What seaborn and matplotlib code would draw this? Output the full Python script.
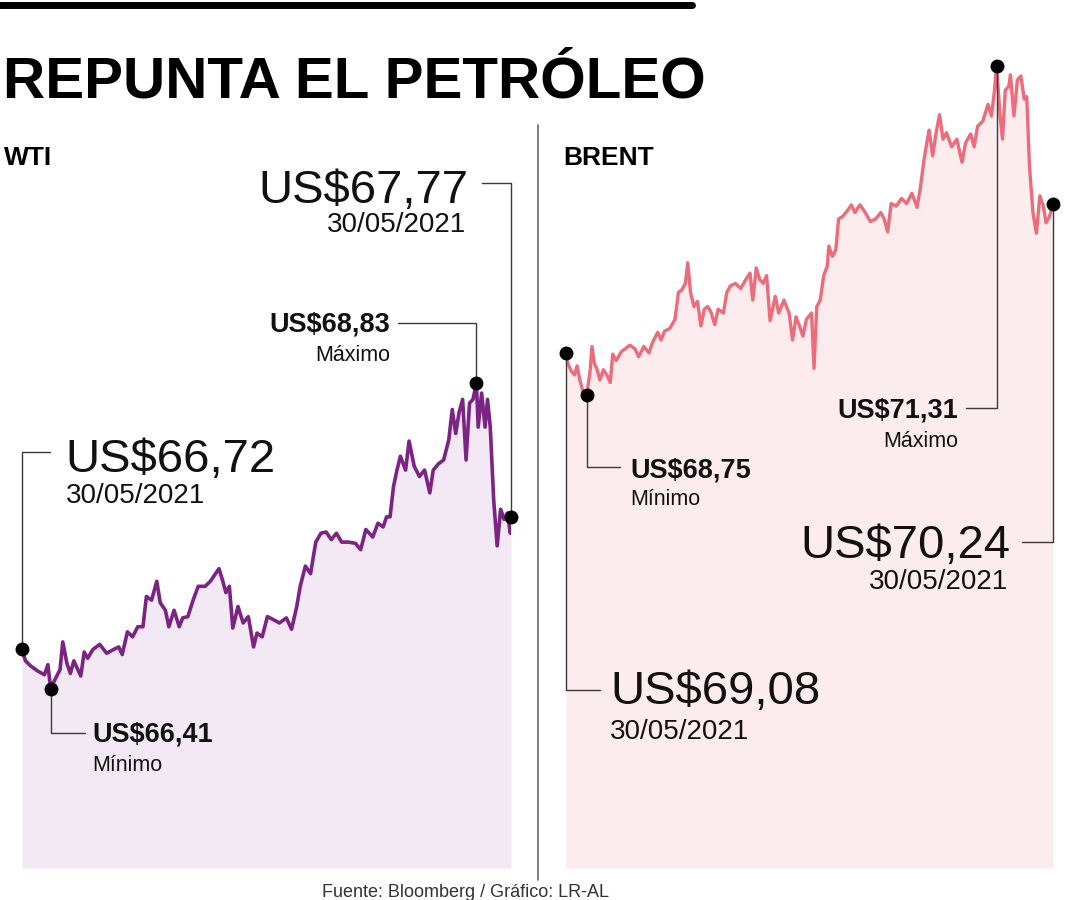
import matplotlib
matplotlib.use('Agg')

import numpy as np
import pandas as pd
import matplotlib.pyplot as plt
import seaborn as sns

# --- datos (posicion temporal relativa y precio en US$) ---
wti_tiempo = [65, 75, 90, 110, 130, 140, 148, 160, 175, 183, 195, 205, 215, 225, 235, 245,
              255, 270, 290, 310, 330, 345, 355, 370, 385, 400, 415, 425, 440, 455, 465, 480,
              490, 505, 520, 530, 545, 560, 575, 595, 610, 625, 635, 645, 655, 665, 675, 690,
              705, 720, 735, 745, 760, 775, 790, 810, 830, 845, 860, 870, 885, 900, 915, 930,
              945, 960, 975, 990, 1010, 1030, 1045, 1060, 1080, 1095, 1110, 1120, 1130, 1140,
              1150, 1160, 1175, 1185, 1200, 1215, 1230, 1245, 1255, 1270, 1285, 1300, 1310,
              1320, 1330, 1340, 1350, 1360, 1370, 1380, 1385, 1395, 1405, 1412, 1420, 1430,
              1440, 1450, 1460, 1470, 1478, 1480]
wti_precio = [66.72, 66.63, 66.59, 66.55, 66.52, 66.60, 66.41, 66.48, 66.56, 66.78, 66.61, 66.53,
              66.63, 66.57, 66.51, 66.70, 66.65, 66.72, 66.76, 66.69, 66.72, 66.74, 66.68, 66.86,
              66.82, 66.90, 66.90, 67.14, 67.11, 67.26, 67.09, 67.03, 66.90, 67.03, 66.90, 66.97,
              66.98, 67.11, 67.22, 67.22, 67.26, 67.32, 67.36, 67.27, 67.17, 67.22, 66.89, 67.06,
              66.93, 66.98, 66.74, 66.85, 66.82, 66.98, 66.96, 66.93, 66.97, 66.88, 67.06, 67.22,
              67.38, 67.32, 67.57, 67.64, 67.65, 67.59, 67.64, 67.57, 67.57, 67.56, 67.51, 67.67,
              67.61, 67.72, 67.69, 67.77, 67.77, 68.01, 68.14, 68.25, 68.14, 68.37, 68.17, 68.09,
              68.14, 67.96, 68.14, 68.19, 68.22, 68.38, 68.62, 68.43, 68.60, 68.70, 68.22, 68.67,
              68.70, 68.83, 68.48, 68.75, 68.48, 68.70, 68.48, 67.90, 67.54, 67.83, 67.75, 67.80,
              67.64, 67.77]

brent_tiempo = [80, 85, 95, 105, 112, 120, 130, 140, 150, 155, 162, 170, 178, 188, 198, 208,
                215, 225, 240, 255, 265, 280, 290, 305, 320, 330, 345, 355, 365, 380, 395, 405,
                415, 425, 432, 440, 450, 460, 470, 480, 490, 500, 510, 520, 535, 545, 555, 570,
                585, 600, 612, 620, 630, 640, 650, 660, 670, 685, 695, 710, 725, 735, 745, 755,
                765, 775, 790, 797, 805, 815, 825, 835, 840, 850, 860, 868, 880, 895, 905, 915,
                930, 945, 960, 975, 990, 1000, 1010, 1020, 1035, 1050, 1065, 1080, 1095, 1105,
                1115, 1125, 1130, 1140, 1150, 1160, 1170, 1180, 1195, 1210, 1225, 1235, 1250,
                1260, 1270, 1285, 1300, 1310, 1318, 1325, 1335, 1342, 1350, 1360, 1365, 1375,
                1385, 1395, 1405, 1412, 1420, 1430, 1440, 1450, 1460, 1468, 1478, 1488]
brent_precio = [69.08, 69.00, 68.94, 68.91, 68.98, 68.87, 68.77, 68.75, 68.95, 69.13, 69.00, 68.95,
                68.87, 68.95, 68.91, 68.85, 69.07, 69.02, 69.09, 69.12, 69.14, 69.11, 69.05, 69.13,
                69.08, 69.16, 69.24, 69.18, 69.25, 69.27, 69.34, 69.55, 69.57, 69.62, 69.78, 69.55,
                69.44, 69.48, 69.29, 69.42, 69.44, 69.39, 69.30, 69.42, 69.39, 69.55, 69.60, 69.62,
                69.58, 69.65, 69.70, 69.49, 69.74, 69.65, 69.62, 69.68, 69.33, 69.52, 69.39, 69.49,
                69.39, 69.18, 69.36, 69.29, 69.21, 69.34, 69.39, 68.96, 69.44, 69.49, 69.68, 69.75,
                69.91, 69.83, 69.88, 70.12, 70.14, 70.19, 70.23, 70.17, 70.23, 70.17, 70.10, 70.12,
                70.17, 70.12, 70.02, 70.24, 70.22, 70.28, 70.24, 70.32, 70.21, 70.37, 70.58, 70.74,
                70.81, 70.61, 70.79, 70.93, 70.74, 70.79, 70.68, 70.74, 70.56, 70.71, 70.78, 70.68,
                70.84, 70.88, 71.01, 70.92, 71.10, 71.31, 70.92, 70.74, 71.12, 71.15, 71.24, 70.92,
                71.20, 71.23, 71.05, 71.07, 70.53, 70.17, 70.01, 70.30, 70.22, 70.09, 70.14, 70.24]

fecha = "30/05/2021"

W, H = 1080, 900


def fx(px):
    return px / W


def fy(py):
    return 1 - py / H


def fmt(v):
    return f"US${v:.2f}".replace('.', ',')


sns.set_theme(style="white")
plt.rcParams['font.family'] = ['Liberation Sans', 'DejaVu Sans']

fig = plt.figure(figsize=(W / 100, H / 100), dpi=100)
fig.patch.set_facecolor('white')


def panel(caja, tiempo, precio, ylim, color_linea, color_relleno, grosor):
    izq, arriba, der, abajo = caja
    ax = fig.add_axes([fx(izq), fy(abajo), (der - izq) / W, (abajo - arriba) / H])
    df = pd.DataFrame({'tiempo': tiempo, 'precio': precio})
    ax.fill_between(df['tiempo'], df['precio'], ylim[0], color=color_relleno, lw=0, zorder=1)
    sns.lineplot(data=df, x='tiempo', y='precio', ax=ax, color=color_linea,
                 linewidth=grosor, zorder=2)
    ax.set_xlim(tiempo[0], tiempo[-1])
    ax.set_ylim(*ylim)
    ax.axis('off')
    return ax


def marca(ax, t, v, py_codo, px_fin):
    # linea de referencia: vertical desde el punto y luego horizontal hasta el texto
    a_datos = ax.transData.inverted()
    xf, yc = a_datos.transform(fig.transFigure.transform((fx(px_fin), fy(py_codo))))
    ax.plot([t, t, xf], [v, yc, yc], color='#3a3a3a', lw=1, clip_on=False, zorder=3)
    ax.plot([t], [v], 'o', color='black', ms=9, clip_on=False, zorder=5)


def etiqueta(px, py, txt, size, ha='left', weight='normal', color='#111111'):
    fig.text(fx(px), fy(py), txt, fontsize=size, ha=ha, va='baseline',
             fontweight=weight, color=color)


# ---------------- WTI ----------------
ax_wti = panel((22, 100, 511, 868), wti_tiempo, wti_precio, (64.99, 71.07),
               '#7b2483', '#f2e9f5', 2.6)
i_min = int(np.argmin(wti_precio))
i_max = int(np.argmax(wti_precio))
marca(ax_wti, wti_tiempo[0], wti_precio[0], 452, 50)
marca(ax_wti, wti_tiempo[i_min], wti_precio[i_min], 733, 85)
marca(ax_wti, wti_tiempo[i_max], wti_precio[i_max], 323, 398)
marca(ax_wti, wti_tiempo[-1], wti_precio[-1], 183, 482)

etiqueta(65, 472, fmt(wti_precio[0]), 34)
etiqueta(66, 503, fecha, 20)
etiqueta(92, 742, fmt(wti_precio[i_min]), 19.5, weight='bold')
etiqueta(92, 771, "Mínimo", 15.5)
etiqueta(390, 332, fmt(wti_precio[i_max]), 19.5, ha='right', weight='bold')
etiqueta(390, 361, "Máximo", 15.5, ha='right')
etiqueta(468, 203, fmt(wti_precio[-1]), 34, ha='right')
etiqueta(466, 232, fecha, 20, ha='right')

# ---------------- BRENT ----------------
ax_brent = panel((566, 40, 1053, 868), brent_tiempo, brent_precio, (65.08, 71.51),
                 '#ec6c7c', '#fdeced', 2.4)
j_min = int(np.argmin(brent_precio))
j_max = int(np.argmax(brent_precio))
marca(ax_brent, brent_tiempo[0], brent_precio[0], 690, 600)
marca(ax_brent, brent_tiempo[j_min], brent_precio[j_min], 467, 620)
marca(ax_brent, brent_tiempo[j_max], brent_precio[j_max], 408, 966)
marca(ax_brent, brent_tiempo[-1], brent_precio[-1], 542, 1022)

etiqueta(610, 704, fmt(brent_precio[0]), 34)
etiqueta(610, 739, fecha, 20)
etiqueta(630, 478, fmt(brent_precio[j_min]), 19.5, weight='bold')
etiqueta(630, 505, "Mínimo", 15.5)
etiqueta(958, 418, fmt(brent_precio[j_max]), 19.5, ha='right', weight='bold')
etiqueta(958, 447, "Máximo", 15.5, ha='right')
etiqueta(1010, 558, fmt(brent_precio[-1]), 34, ha='right')
etiqueta(1008, 589, fecha, 20, ha='right')

# ---------------- titulos y adornos ----------------
fig.add_artist(plt.Line2D([0, fx(692)], [fy(5), fy(5)], color='black', lw=5))
fig.add_artist(plt.Line2D([fx(538), fx(538)], [fy(125), fy(880)], color='#666666', lw=1.2))
etiqueta(3, 98, "REPUNTA EL PETRÓLEO", 42, weight='bold', color='black')
etiqueta(4, 165, "WTI", 19, weight='bold', color='black')
etiqueta(563, 165, "BRENT", 19, weight='bold', color='black')
etiqueta(465, 897, "Fuente: Bloomberg / Gráfico: LR-AL", 13, ha='center', color='#333333')

fig.savefig('out.png', dpi=100, facecolor='white')
plt.close(fig)
